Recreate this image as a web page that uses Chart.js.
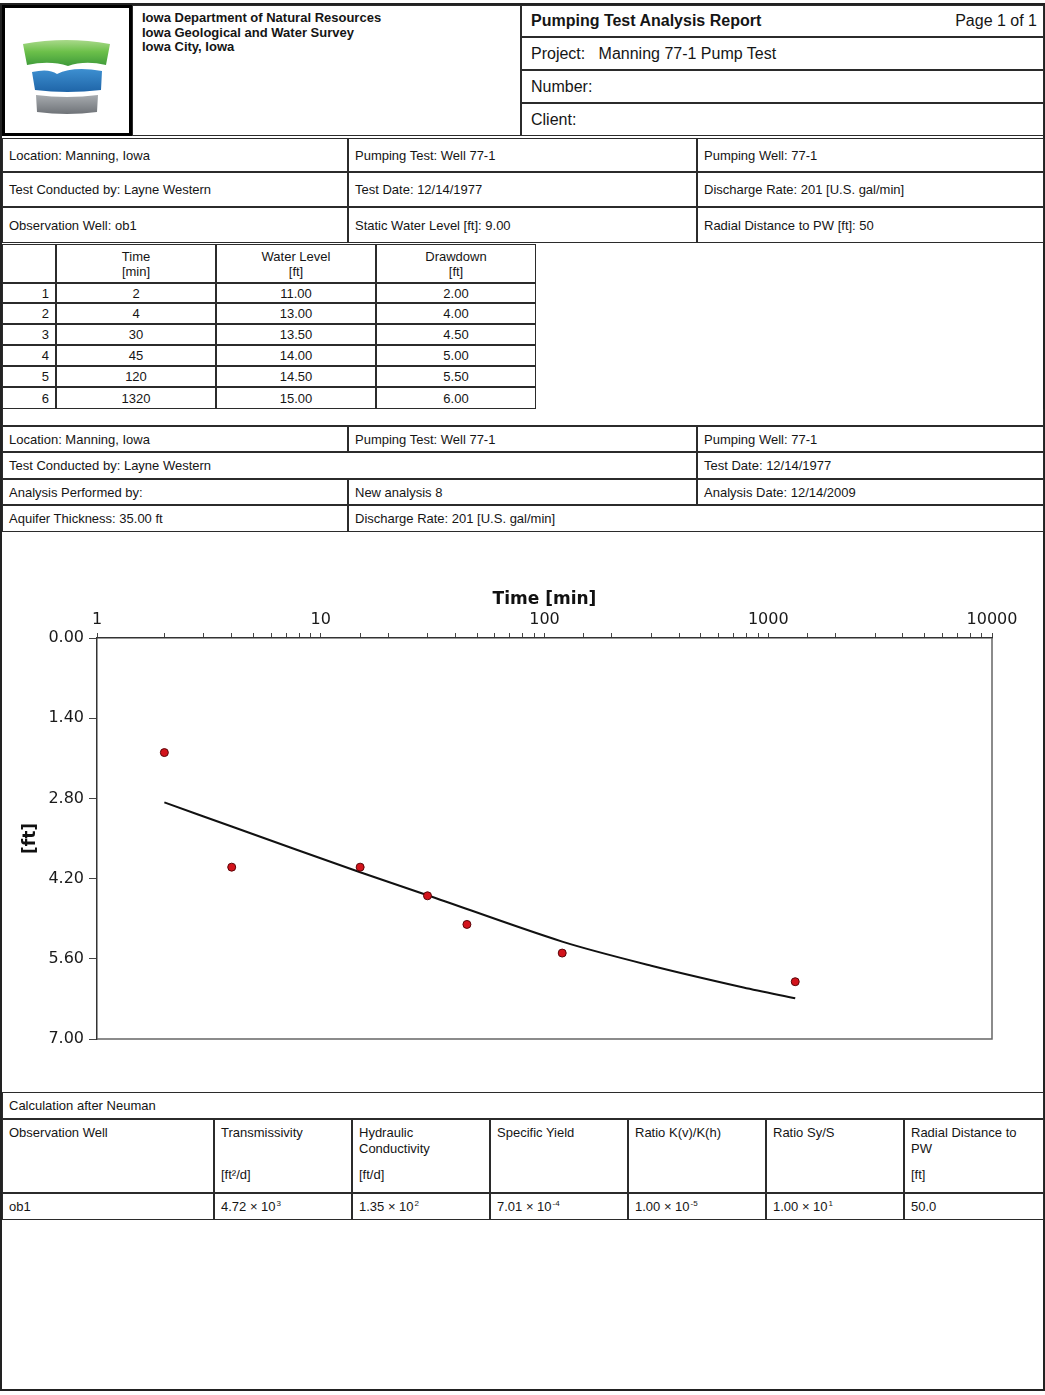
<!DOCTYPE html>
<html>
<head>
<meta charset="utf-8">
<title>Pumping Test Analysis Report</title>
<script src="https://cdn.jsdelivr.net/npm/chart.js@4.4.0/dist/chart.umd.min.js"></script>
<style>
  body { margin: 0; background: #fff; }
  #page { position: relative; width: 1045px; height: 1395px; font-family: "Liberation Sans", Arial, sans-serif; color: #151515; overflow: hidden; }
  .c { position: absolute; box-sizing: border-box; border: 1px solid #2b2b2b; font-size: 13px; padding-left: 6px; display: flex; align-items: center; white-space: nowrap; }
  .top { align-items: flex-start; padding-top: 5px; line-height: 16px; white-space: normal; }
  .ctr { justify-content: center; padding-left: 0; text-align: center; }
  .rgt { justify-content: flex-end; padding-right: 6px; }
  .frame { position: absolute; left: 0; top: 3px; width: 1045px; height: 1388px; box-sizing: border-box; border: 2px solid #222; }
  sup { font-size: 8px; vertical-align: 5px; line-height: 0; margin-left: 1px; }
  #chartBox { position: absolute; left: 0; top: 532px; width: 1045px; height: 560px; }
</style>
</head>
<body>
<div id="page">
  <div class="frame"></div>
  <div id="chartBox"><canvas id="drawdownChart" width="1045" height="560"></canvas></div>
</div>
<script>
// pumping test: observation well ob1
const tableTime = [2, 4, 30, 45, 120, 1320];
const tableLevel = ['11.00', '13.00', '13.50', '14.00', '14.50', '15.00'];
const tableDrawdown = ['2.00', '4.00', '4.50', '5.00', '5.50', '6.00'];

// observed drawdown as plotted
const plotTime = [2, 4, 15, 30, 45, 120, 1320];
const plotDrawdown = [2.0, 4.0, 4.0, 4.5, 5.0, 5.5, 6.0];

// fitted Neuman type curve
const curveTime = [2, 4, 15, 30, 120, 300, 775, 1320];
const curveDrawdown = [2.87, 3.29, 4.09, 4.49, 5.30, 5.72, 6.10, 6.29];

const xTickLabels = ['1', '10', '100', '1000', '10000'];

// Neuman results
const resultHeads = ['Observation Well', 'Transmissivity', 'Hydraulic<br>Conductivity', 'Specific Yield', 'Ratio K(v)/K(h)', 'Ratio Sy/S', 'Radial Distance to<br>PW'];
const resultUnits = ['', '[ft²/d]', '[ft/d]', '', '', '', '[ft]'];
const resultValues = ['ob1', '4.72 × 10<sup>3</sup>', '1.35 × 10<sup>2</sup>', '7.01 × 10<sup>-4</sup>', '1.00 × 10<sup>-5</sup>', '1.00 × 10<sup>1</sup>', '50.0'];

const page = document.getElementById('page');

function cell(x1, y1, x2, y2, html, cls) {
  const d = document.createElement('div');
  d.className = 'c' + (cls ? ' ' + cls : '');
  d.style.left = x1 + 'px';
  d.style.top = y1 + 'px';
  d.style.width = (x2 - x1) + 'px';
  d.style.height = (y2 - y1) + 'px';
  d.innerHTML = html;
  page.appendChild(d);
  return d;
}

// header block
const logo = cell(2, 5, 132, 136, '<svg width="124" height="125" viewBox="0 0 124 125">' +
  '<defs><linearGradient id="gr" x1="0" y1="0" x2="0" y2="1"><stop offset="0" stop-color="#a9d98a"/><stop offset="0.45" stop-color="#6cc04a"/><stop offset="1" stop-color="#3e9a3a"/></linearGradient>' +
  '<linearGradient id="bl" x1="0" y1="0" x2="0" y2="1"><stop offset="0" stop-color="#3d8fd0"/><stop offset="1" stop-color="#1f65a8"/></linearGradient>' +
  '<linearGradient id="gy" x1="0" y1="0" x2="0" y2="1"><stop offset="0" stop-color="#a7abaf"/><stop offset="1" stop-color="#6f7378"/></linearGradient></defs>' +
  '<path d="M18,36 Q61,28 105,36 L101,57 Q80,52 63,58 Q45,52 22,57 Z" fill="url(#gr)"/>' +
  '<path d="M27,64 Q44,60 52,66 Q68,58 97,63 L96,82 Q62,86 30,82 Z" fill="url(#bl)"/>' +
  '<path d="M31,87 Q62,91 93,87 L92,104 Q62,108 32,104 Z" fill="url(#gy)"/>' +
  '</svg>', 'ctr');
logo.style.border = '3px solid #000';

cell(132, 5, 521, 136, '<div style="font-weight:bold;font-size:13px;line-height:14.5px;padding-left:3px">Iowa Department of Natural Resources<br>Iowa Geological and Water Survey<br>Iowa City, Iowa</div>', 'top');

cell(521, 5, 1044, 37, '<span style="font-weight:bold;font-size:16px;flex:1;padding-left:3px">Pumping Test Analysis Report</span><span style="font-size:16px;padding-right:6px">Page 1 of 1</span>');
cell(521, 37, 1044, 70, '<span style="font-size:16px;padding-left:3px">Project:&nbsp;&nbsp; Manning 77-1 Pump Test</span>');
cell(521, 70, 1044, 103, '<span style="font-size:16px;padding-left:3px">Number:</span>');
cell(521, 103, 1044, 136, '<span style="font-size:16px;padding-left:3px">Client:</span>');

// test information
const infoCols = [2, 348, 697, 1044];
const infoRows = [138, 172, 207, 243];
const info1 = [
  ['Location: Manning, Iowa', 'Pumping Test: Well 77-1', 'Pumping Well: 77-1'],
  ['Test Conducted by: Layne Western', 'Test Date: 12/14/1977', 'Discharge Rate: 201 [U.S. gal/min]'],
  ['Observation Well: ob1', 'Static Water Level [ft]: 9.00', 'Radial Distance to PW [ft]: 50']
];
info1.forEach((row, r) => row.forEach((txt, k) =>
  cell(infoCols[k], infoRows[r], infoCols[k + 1], infoRows[r + 1], txt)));

// measurement table
const tCols = [2, 56, 216, 376, 536];
const tRows = [244, 283, 303, 324, 345, 366, 387, 409];
cell(tCols[0], tRows[0], tCols[1], tRows[1], '');
cell(tCols[1], tRows[0], tCols[2], tRows[1], 'Time<br>[min]', 'ctr');
cell(tCols[2], tRows[0], tCols[3], tRows[1], 'Water Level<br>[ft]', 'ctr');
cell(tCols[3], tRows[0], tCols[4], tRows[1], 'Drawdown<br>[ft]', 'ctr');
document.querySelectorAll('.ctr').forEach(d => { d.style.lineHeight = '15px'; });
tableTime.forEach((t, i) => {
  cell(tCols[0], tRows[i + 1], tCols[1], tRows[i + 2], String(i + 1), 'rgt');
  cell(tCols[1], tRows[i + 1], tCols[2], tRows[i + 2], String(t), 'ctr');
  cell(tCols[2], tRows[i + 1], tCols[3], tRows[i + 2], tableLevel[i], 'ctr');
  cell(tCols[3], tRows[i + 1], tCols[4], tRows[i + 2], tableDrawdown[i], 'ctr');
});
cell(2, 409, 1044, 426, '').style.borderTop = 'none';

// analysis information
cell(2, 426, 348, 452, 'Location: Manning, Iowa');
cell(348, 426, 697, 452, 'Pumping Test: Well 77-1');
cell(697, 426, 1044, 452, 'Pumping Well: 77-1');
cell(2, 452, 697, 479, 'Test Conducted by: Layne Western');
cell(697, 452, 1044, 479, 'Test Date: 12/14/1977');
cell(2, 479, 348, 505, 'Analysis Performed by:');
cell(348, 479, 697, 505, 'New analysis 8');
cell(697, 479, 1044, 505, 'Analysis Date: 12/14/2009');
cell(2, 505, 348, 532, 'Aquifer Thickness: 35.00 ft');
cell(348, 505, 1044, 532, 'Discharge Rate: 201 [U.S. gal/min]');

// results table
const rCols = [2, 214, 352, 490, 628, 766, 904, 1044];
cell(2, 1092, 1044, 1119, 'Calculation after Neuman');
resultHeads.forEach((h, k) => {
  cell(rCols[k], 1119, rCols[k + 1], 1193,
    '<div style="display:flex;flex-direction:column;justify-content:space-between;height:58px"><div>' + h + '</div><div>' + resultUnits[k] + '</div></div>', 'top');
  cell(rCols[k], 1193, rCols[k + 1], 1220, '<span>' + resultValues[k] + '</span>');
});

// drawdown vs. time plot
const plotFrame = {
  id: 'plotFrame',
  beforeDatasetsDraw(chart) {
    const { ctx, chartArea: a } = chart;
    ctx.save();
    ctx.strokeStyle = '#666';
    ctx.lineWidth = 1.5;
    ctx.beginPath();
    ctx.moveTo(a.left, a.bottom);
    ctx.lineTo(a.right, a.bottom);
    ctx.lineTo(a.right, a.top);
    ctx.stroke();
    ctx.restore();
  }
};

const axisFont = { family: 'DejaVu Sans', size: 16 };
const titleFont = { family: 'DejaVu Sans', size: 17, weight: 'bold' };

new Chart(document.getElementById('drawdownChart'), {
  type: 'scatter',
  data: {
    datasets: [
      {
        label: 'ob1',
        data: plotTime.map((t, i) => ({ x: t, y: plotDrawdown[i] })),
        pointRadius: 4,
        pointBackgroundColor: '#d3131b',
        pointBorderColor: '#5a0508',
        pointBorderWidth: 1,
        showLine: false
      },
      {
        label: 'Neuman',
        data: curveTime.map((t, i) => ({ x: t, y: curveDrawdown[i] })),
        showLine: true,
        pointRadius: 0,
        borderColor: '#111',
        borderWidth: 2,
        tension: 0.3
      }
    ]
  },
  options: {
    responsive: false,
    animation: false,
    layout: { padding: { left: 20, top: 57, right: 53, bottom: 53 } },
    plugins: { legend: { display: false }, tooltip: { enabled: false } },
    scales: {
      x: {
        type: 'logarithmic',
        position: 'top',
        min: 1,
        max: 10000,
        afterFit: s => { s.height = 49; },
        title: { display: true, text: 'Time [min]', font: titleFont, color: '#111', padding: { top: 0, bottom: 2 } },
        ticks: {
          autoSkip: false,
          maxRotation: 0,
          font: axisFont,
          color: '#1a1a1a',
          padding: 4,
          callback: v => {
            const e = Math.log10(v);
            return Math.abs(e - Math.round(e)) < 1e-9 ? xTickLabels[Math.round(e)] : '';
          }
        },
        grid: { drawOnChartArea: false, tickLength: 5, color: '#444' },
        border: { color: '#333', width: 1.5 }
      },
      y: {
        reverse: true,
        min: 0,
        max: 7,
        afterFit: s => { s.width = 77; },
        title: { display: true, text: '[ft]', font: titleFont, color: '#111', padding: { top: 0, bottom: 0 } },
        ticks: { stepSize: 1.4, font: axisFont, color: '#1a1a1a', padding: 5, callback: v => Number(v).toFixed(2) },
        grid: { drawOnChartArea: false, tickLength: 8, color: '#444' },
        border: { color: '#333', width: 1.5 }
      }
    }
  },
  plugins: [plotFrame]
});
</script>
</body>
</html>
